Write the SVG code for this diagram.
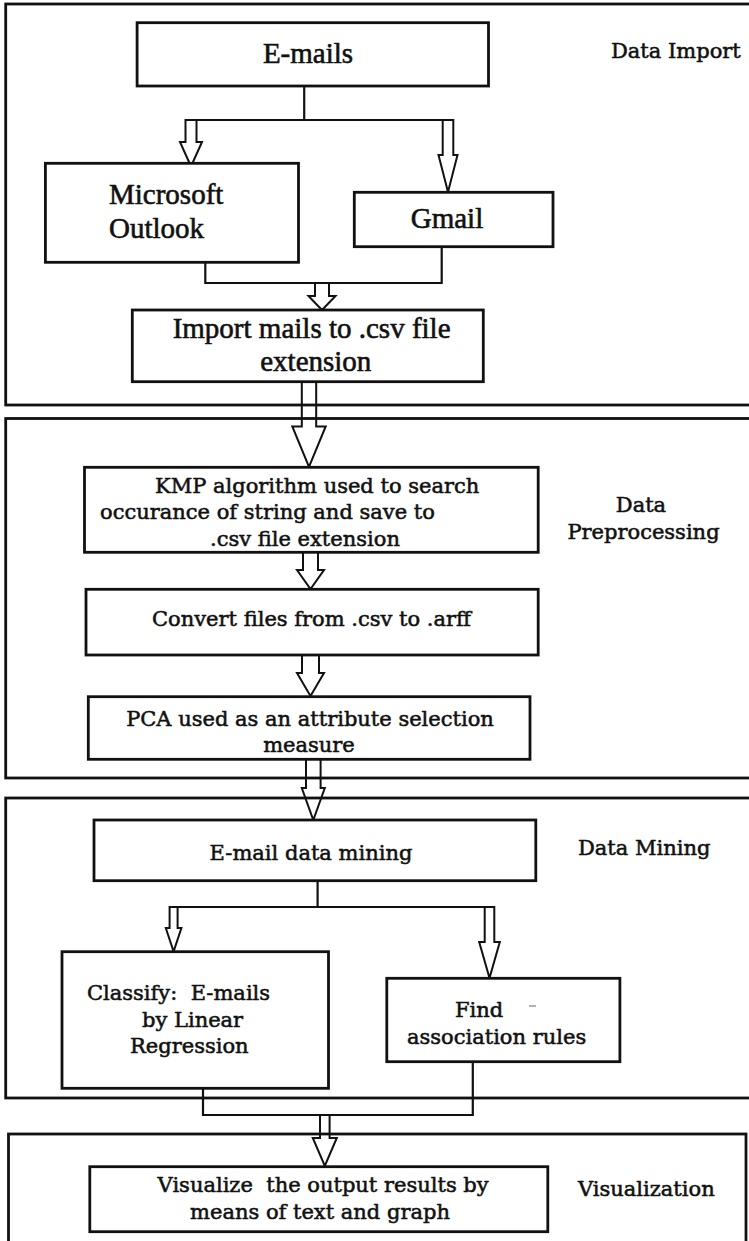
<svg xmlns="http://www.w3.org/2000/svg" width="749" height="1241" viewBox="0 0 749 1241">
  <style>
    .frame { fill: none; stroke: #111; stroke-width: 2.8; }
    .box { fill: #fff; stroke: #111; stroke-width: 2.8; }
    .line { fill: none; stroke: #111; stroke-width: 2.2; }
    .arrow { fill: none; stroke: #111; stroke-width: 2; stroke-linejoin: miter; }
    .big { font-family: "Liberation Serif", "Times New Roman", serif; font-size: 29px; fill: #111; stroke: #111; stroke-width: 0.6; }
    .txt { font-family: "DejaVu Serif", "Liberation Serif", serif; font-size: 21px; fill: #111; stroke: #111; stroke-width: 0.55; }
    .lbl { font-family: "DejaVu Serif", "Liberation Serif", serif; font-size: 21px; fill: #111; stroke: #111; stroke-width: 0.55; }
    .mid { text-anchor: middle; }
  </style>

  <rect width="749" height="1241" fill="#fff"/>

  <!-- stage frames -->
  <g id="stages">
    <g id="stage-import">
      <rect class="frame" x="5.7" y="4" width="760" height="401"/>
      <text class="lbl" x="611" y="58" font-size="20.5">Data Import</text>
    </g>
    <g id="stage-preprocessing">
      <rect class="frame" x="5.7" y="418.5" width="760" height="359.5"/>
      <text class="lbl mid" x="641" y="512">Data</text>
      <text class="lbl mid" x="643.5" y="538.5">Preprocessing</text>
    </g>
    <g id="stage-mining">
      <rect class="frame" x="5.7" y="798" width="760" height="300"/>
      <text class="lbl" x="578" y="855">Data Mining</text>
    </g>
    <g id="stage-visualization">
      <rect class="frame" x="8.5" y="1134" width="737.5" height="130"/>
      <text class="lbl" x="578" y="1196">Visualization</text>
    </g>
  </g>

  <!-- connectors -->
  <g id="connectors">
    <polyline class="line" points="304.2,86 304.2,120"/>
    <polyline class="line" points="185.5,120 453.3,120"/>
    <path class="arrow" d="M185.5,120 L185.5,142 L180,142 L191,166.5 L202,142 L196.5,142 L196.5,120 Z"/>
    <path class="arrow" d="M442.7,120 L442.7,155 L438.5,155 L448,192 L457.5,155 L453.3,155 L453.3,120 Z"/>

    <polyline class="line" points="205.3,262 205.3,283 441.7,283 441.7,247"/>
    <path class="arrow" d="M315,283 L315,296 L308.5,296 L322,310 L335.5,296 L329,296 L329,283 Z"/>

    <path class="arrow" d="M301.8,380 L301.8,426.5 L292.3,426.5 L309,467 L325.7,426.5 L316.2,426.5 L316.2,380 Z"/>

    <path class="arrow" d="M303,552 L303,570 L297,570 L310.5,589 L324,570 L318,570 L318,552 Z"/>
    <path class="arrow" d="M302,655 L302,673 L297,673 L310.5,696 L324,673 L319,673 L319,655 Z"/>

    <path class="arrow" d="M306,759 L306,788 L301.8,788 L313.3,820 L324.8,788 L320.6,788 L320.6,759 Z"/>

    <polyline class="line" points="317.6,881 317.6,907"/>
    <polyline class="line" points="169.6,907 494.3,907"/>
    <path class="arrow" d="M169.6,907 L169.6,928 L165.8,928 L173.6,951.5 L181.4,928 L177.6,928 L177.6,907 Z"/>
    <path class="arrow" d="M484.7,907 L484.7,942 L479.2,942 L489.5,978 L499.8,942 L494.3,942 L494.3,907 Z"/>

    <polyline class="line" points="203,1088 203,1115 472.8,1115 472.8,1062"/>
    <path class="arrow" d="M320,1115 L320,1138 L312.8,1138 L324.8,1166 L336.8,1138 L329.6,1138 L329.6,1115 Z"/>
  </g>

  <!-- process nodes -->
  <g id="emails">
    <rect class="box" x="137.1" y="22.7" width="351.4" height="63.3"/>
    <text class="big mid" x="308" y="63">E-mails</text>
  </g>
  <g id="outlook">
    <rect class="box" x="45.4" y="163.3" width="253.1" height="99"/>
    <text class="big" x="109" y="204">Microsoft</text>
    <text class="big" x="109" y="237.5">Outlook</text>
  </g>
  <g id="gmail">
    <rect class="box" x="354.3" y="192.3" width="198.7" height="54.4"/>
    <text class="big mid" x="447" y="228">Gmail</text>
  </g>
  <g id="import-csv">
    <rect class="box" x="132.3" y="310" width="351" height="71.7"/>
    <text class="big mid" x="311.6" y="337.7">Import mails to .csv file</text>
    <text class="big mid" x="315.8" y="370.7">extension</text>
  </g>

  <g id="kmp">
    <rect class="box" x="84.5" y="467.3" width="453.7" height="85"/>
    <text class="txt" x="155" y="493.3">KMP algorithm used to search</text>
    <text class="txt" x="100" y="519.3">occurance of string and save to</text>
    <text class="txt" x="210" y="546">.csv file extension</text>
  </g>
  <g id="convert">
    <rect class="box" x="86" y="589.3" width="452.2" height="65.7"/>
    <text class="txt mid" x="311.5" y="626">Convert files from .csv to .arff</text>
  </g>
  <g id="pca">
    <rect class="box" x="88.3" y="696.7" width="441.7" height="62.6"/>
    <text class="txt mid" x="310" y="726">PCA used as an attribute selection</text>
    <text class="txt mid" x="309" y="751.7">measure</text>
  </g>

  <g id="email-mining">
    <rect class="box" x="94" y="820" width="441.8" height="60.7"/>
    <text class="txt mid" x="311" y="860">E-mail data mining</text>
  </g>
  <g id="classify">
    <rect class="box" x="62" y="951.7" width="266.5" height="136.6"/>
    <text class="txt" x="87" y="1000" xml:space="preserve">Classify:  E-mails</text>
    <text class="txt" x="142" y="1026.7">by Linear</text>
    <text class="txt" x="130" y="1052.7">Regression</text>
  </g>
  <g id="association">
    <rect class="box" x="386.8" y="978.3" width="233.1" height="83.4"/>
    <text class="txt" x="455" y="1017.3">Find</text>
    <line x1="529" y1="1006" x2="536" y2="1006" stroke="#999" stroke-width="1.5"/>
    <text class="txt" x="407" y="1044">association rules</text>
  </g>

  <g id="visualize">
    <rect class="box" x="89.8" y="1166.7" width="458" height="65"/>
    <text class="txt" x="157.6" y="1192.3" xml:space="preserve">Visualize  the output results by</text>
    <text class="txt mid" x="320" y="1219.3">means of text and graph</text>
  </g>
</svg>
